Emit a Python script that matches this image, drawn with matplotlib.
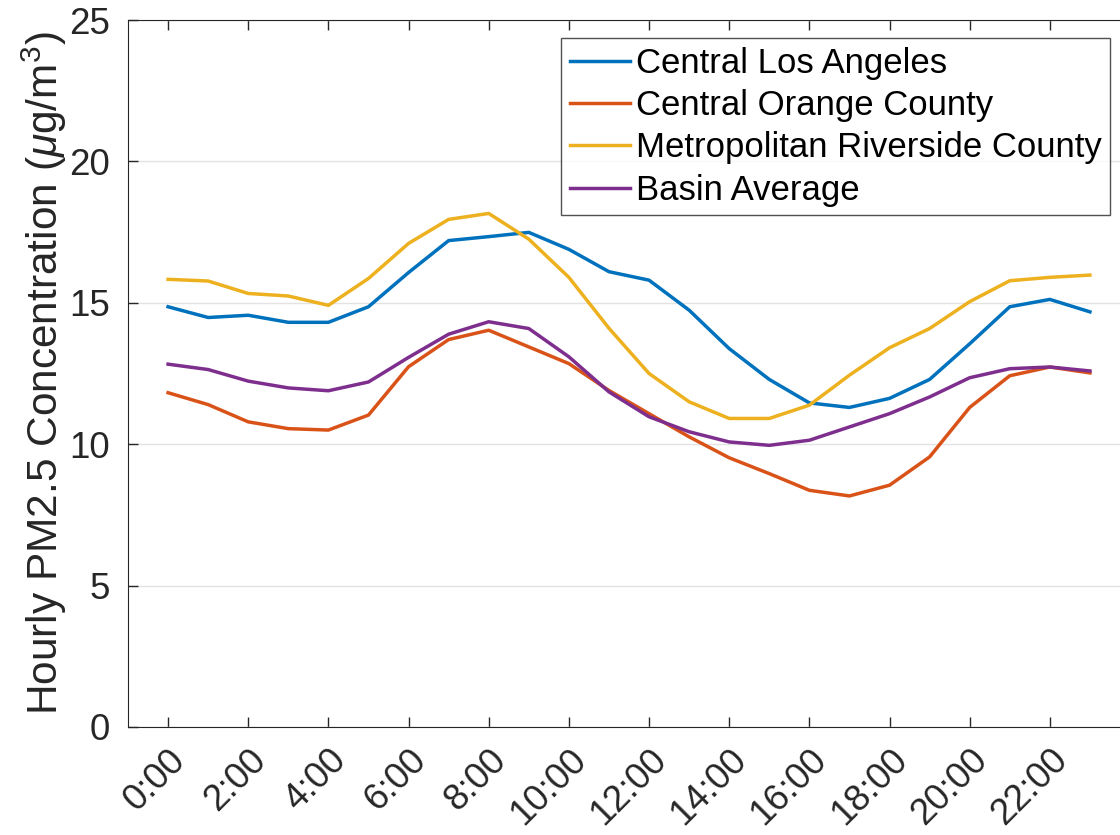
import matplotlib
matplotlib.use("Agg")
import matplotlib.pyplot as plt

# hourly averages (hour 0..23)
hours = list(range(24))
tick_hours = list(range(0, 24, 2))
tick_labels = [f"{h}:00" for h in tick_hours]

central_la = [14.86, 14.48, 14.56, 14.31, 14.31, 14.86, 16.07, 17.2, 17.34, 17.49,
              16.89, 16.1, 15.8, 14.74, 13.38, 12.29, 11.46, 11.3, 11.62, 12.29,
              13.55, 14.86, 15.12, 14.68]
central_oc = [11.82, 11.4, 10.79, 10.55, 10.5, 11.03, 12.74, 13.7, 14.03, 13.44,
              12.85, 11.9, 11.08, 10.26, 9.52, 8.96, 8.37, 8.17, 8.55, 9.55,
              11.3, 12.42, 12.73, 12.52]
metro_rc = [15.83, 15.77, 15.33, 15.24, 14.91, 15.86, 17.1, 17.95, 18.16, 17.25,
            15.9, 14.1, 12.5, 11.5, 10.91, 10.91, 11.38, 12.44, 13.41, 14.09,
            15.04, 15.78, 15.9, 15.98]
basin_avg = [12.83, 12.64, 12.23, 11.99, 11.89, 12.2, 13.07, 13.89, 14.33, 14.09,
             13.09, 11.85, 10.97, 10.44, 10.08, 9.96, 10.14, 10.61, 11.08, 11.67,
             12.35, 12.67, 12.73, 12.59]

series = [
    ("Central Los Angeles", central_la, "#0072BD"),
    ("Central Orange County", central_oc, "#D95319"),
    ("Metropolitan Riverside County", metro_rc, "#EDB120"),
    ("Basin Average", basin_avg, "#7E2F8E"),
]

plt.rcParams['font.family'] = ['Liberation Sans', 'DejaVu Sans']
plt.rcParams['mathtext.fontset'] = 'custom'
plt.rcParams['mathtext.rm'] = 'Liberation Sans'
plt.rcParams['mathtext.it'] = 'Liberation Sans:italic'

fig = plt.figure(figsize=(11.2, 8.35), dpi=100)
ax = fig.add_axes([128 / 1120, 1 - 727 / 835, 1002 / 1120, 707 / 835])

for name, vals, color in series:
    ax.plot(hours, vals, color=color, linewidth=2.5, label=name)

ax.set_xlim(-1, 24)
ax.set_ylim(0, 25)
ax.set_xticks(tick_hours)
ax.set_xticklabels(tick_labels, rotation=45, ha='right', rotation_mode='anchor')
ax.set_yticks([0, 5, 10, 15, 20, 25])
ax.tick_params(axis='both', direction='in', length=7, width=1, labelsize=26.5,
               colors='#262626', top=True)
ax.tick_params(axis='y', pad=13)
ax.tick_params(axis='x', pad=11)
ax.grid(axis='y', color='#e3e3e3', linewidth=1)
ax.set_axisbelow(True)
for side in ['left', 'bottom', 'top']:
    ax.spines[side].set_color('#262626')
ax.spines['right'].set_visible(False)

ax.set_ylabel(r'Hourly PM2.5 Concentration ($\mu$g/m$^3$)', fontsize=30.5,
              color='#262626', labelpad=0)

leg = ax.legend(loc='upper right', bbox_to_anchor=(1110 / 1120, 1 - 38 / 835),
                bbox_transform=fig.transFigure, borderaxespad=0, fontsize=25,
                frameon=True, fancybox=False, edgecolor='#262626',
                handlelength=1.75, handletextpad=0.15, labelspacing=0.27,
                borderpad=0.25)
leg.get_frame().set_linewidth(1)

fig.savefig("out.png", dpi=100)
